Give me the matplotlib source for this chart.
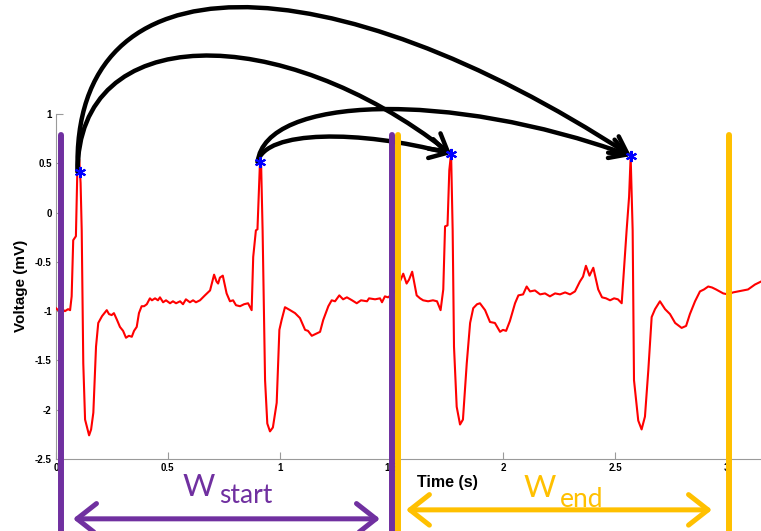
import numpy as np
import matplotlib
matplotlib.use("Agg")
import matplotlib.pyplot as plt
from matplotlib.path import Path
from matplotlib.patches import FancyArrowPatch

# ECG trace (time in s, voltage in mV)
t = [0.0, 0.009, 0.027, 0.040, 0.054, 0.063, 0.070, 0.077, 0.089, 0.095, 0.104, 0.110, 0.115,
     0.122, 0.130, 0.148, 0.157, 0.167, 0.179, 0.189, 0.206, 0.227, 0.237, 0.249, 0.259, 0.273,
     0.286, 0.300, 0.313, 0.326, 0.339, 0.349, 0.361, 0.371, 0.383, 0.394, 0.406, 0.420, 0.429,
     0.443, 0.456, 0.465, 0.479, 0.492, 0.510, 0.523, 0.537, 0.555, 0.568, 0.581, 0.599, 0.613,
     0.626, 0.644, 0.666, 0.689, 0.707, 0.718, 0.725, 0.733, 0.746, 0.763, 0.778, 0.792, 0.805,
     0.823, 0.841, 0.859, 0.868, 0.875, 0.882, 0.894, 0.901, 0.912, 0.917, 0.924, 0.935, 0.945,
     0.957, 0.970, 0.987, 0.999, 1.009, 1.024, 1.047, 1.069, 1.091, 1.114, 1.127, 1.144, 1.163,
     1.181, 1.195, 1.218, 1.233, 1.248, 1.267, 1.284, 1.301, 1.324, 1.345, 1.364, 1.391, 1.400,
     1.427, 1.449, 1.458, 1.471, 1.485, 1.508, 1.524, 1.538, 1.553, 1.568, 1.579, 1.593, 1.613,
     1.628, 1.642, 1.664, 1.686, 1.704, 1.720, 1.732, 1.740, 1.751, 1.759, 1.767, 1.774, 1.780,
     1.792, 1.807, 1.820, 1.837, 1.852, 1.866, 1.883, 1.896, 1.919, 1.941, 1.963, 1.986, 1.999,
     2.013, 2.030, 2.053, 2.068, 2.089, 2.105, 2.120, 2.142, 2.165, 2.187, 2.209, 2.232, 2.254,
     2.277, 2.299, 2.321, 2.343, 2.357, 2.370, 2.386, 2.403, 2.425, 2.442, 2.460, 2.478, 2.496,
     2.513, 2.530, 2.542, 2.552, 2.563, 2.570, 2.579, 2.585, 2.604, 2.619, 2.634, 2.649, 2.664,
     2.679, 2.701, 2.724, 2.746, 2.769, 2.798, 2.818, 2.835, 2.858, 2.880, 2.898, 2.917, 2.934,
     2.952, 2.984, 3.005, 3.028, 3.050, 3.072, 3.095, 3.126, 3.153]
v = [-0.97, -0.99, -0.98, -1.00, -0.98, -0.99, -0.85, -0.28, -0.24, 0.38, 0.54, 0.30, -0.18,
     -1.53, -2.10, -2.26, -2.20, -2.03, -1.36, -1.12, -1.05, -0.99, -1.03, -1.04, -1.02, -1.09,
     -1.16, -1.20, -1.27, -1.25, -1.26, -1.20, -1.16, -1.02, -0.95, -0.95, -0.93, -0.87, -0.89,
     -0.87, -0.89, -0.86, -0.91, -0.89, -0.92, -0.90, -0.92, -0.90, -0.93, -0.88, -0.91, -0.89,
     -0.91, -0.89, -0.84, -0.79, -0.63, -0.70, -0.72, -0.66, -0.64, -0.82, -0.90, -0.89, -0.94,
     -0.95, -0.93, -0.92, -0.96, -0.99, -0.45, -0.18, -0.17, 0.50, 0.53, -0.18, -1.70, -2.14,
     -2.22, -2.18, -1.93, -1.19, -1.09, -0.96, -0.99, -1.02, -1.07, -1.19, -1.20, -1.25, -1.23,
     -1.21, -1.09, -0.95, -0.89, -0.90, -0.84, -0.88, -0.86, -0.89, -0.92, -0.89, -0.90, -0.87,
     -0.88, -0.87, -0.91, -0.85, -0.86, -0.82, -0.78, -0.70, -0.62, -0.72, -0.68, -0.60, -0.84,
     -0.87, -0.89, -0.90, -0.89, -0.90, -0.99, -0.78, -0.14, -0.13, 0.43, 0.60, -0.18, -1.36,
     -1.97, -2.15, -2.10, -1.53, -1.12, -0.97, -0.93, -0.92, -0.99, -1.11, -1.12, -1.21, -1.19,
     -1.20, -1.10, -0.92, -0.84, -0.83, -0.75, -0.80, -0.79, -0.83, -0.82, -0.85, -0.82, -0.83,
     -0.81, -0.83, -0.80, -0.70, -0.65, -0.54, -0.64, -0.56, -0.78, -0.86, -0.87, -0.89, -0.87,
     -0.88, -0.92, -0.51, -0.18, 0.16, 0.57, -0.18, -1.70, -2.11, -2.20, -2.07, -1.60, -1.06,
     -0.98, -0.90, -0.98, -1.03, -1.12, -1.17, -1.15, -1.03, -0.90, -0.80, -0.78, -0.75, -0.76,
     -0.78, -0.82, -0.83, -0.81, -0.80, -0.79, -0.78, -0.73, -0.70]

# detected R peaks (blue asterisks)
peak_t = [0.107, 0.912, 1.767, 2.572]
peak_v = [0.412, 0.513, 0.594, 0.574]

# window boundaries
w_start = [0.021, 1.503]
w_end = [1.530, 3.012]

# arrows between peaks: (from, to, control point 1, control point 2)
links = [(0, 3, (0.063, 2.66), (1.225, 2.56)),
         (0, 2, (0.094, 1.95), (1.002, 1.95)),
         (1, 3, (0.935, 1.19), (1.762, 1.24)),
         (1, 2, (0.935, 0.84), (1.360, 0.84))]

xticks = [0, 0.5, 1, 1.5, 2, 2.5, 3]
xticklabels = ['0', '0.5', '1', '1.5', '2', '2.5', '3']
yticks = [-2.5, -2, -1.5, -1, -0.5, 0, 0.5, 1]
yticklabels = ['-2.5', '-2', '-1.5', '-1', '-0.5', '0', '0.5', '1']

purple = '#7030A0'
orange = '#FFC000'

fig = plt.figure(figsize=(7.61, 5.31), dpi=100)
ax = fig.add_axes([56 / 761, 72 / 531, 705 / 761, 345 / 531])

ax.plot(t, v, color='red', lw=1.5, zorder=3)
ax.plot(peak_t, peak_v, ls='none', marker=(6, 2, 0), ms=8, mew=1.5,
        color='blue', zorder=5, clip_on=False)

ax.set_xlim(0, 3.153)
ax.set_ylim(-2.5, 1)
ax.set_xticks(xticks)
ax.set_xticklabels(xticklabels)
ax.set_yticks(yticks)
ax.set_yticklabels(yticklabels)
for s in ['top', 'right']:
    ax.spines[s].set_visible(False)
for s in ['left', 'bottom']:
    ax.spines[s].set_color('#9a9a9a')
ax.tick_params(direction='in', length=5, color='#9a9a9a', labelsize=7, pad=3)
for lab in ax.get_xticklabels() + ax.get_yticklabels():
    lab.set_fontweight('bold')
    lab.set_family('Liberation Sans')

fig.text(21 / 761, 1 - 286 / 531, 'Voltage (mV)', rotation=90, ha='center', va='center',
         fontsize=11, fontweight='bold', family='Liberation Sans')
fig.text(447 / 761, 1 - 483 / 531, 'Time (s)', ha='center', va='center',
         fontsize=11.5, fontweight='bold', family='Liberation Sans')

# window lines
for x in w_start:
    ax.plot([x, x], [0.787, -3.23], color=purple, lw=4.3, solid_capstyle='round',
            clip_on=False, zorder=6)
for x in w_end:
    ax.plot([x, x], [0.787, -3.23], color=orange, lw=4.3, solid_capstyle='round',
            clip_on=False, zorder=6)

# double arrows under the axis
for (a, b, y, c) in [(0.076, 1.449, -3.107, purple), (1.565, 2.934, -3.016, orange)]:
    arr = FancyArrowPatch((a, y), (b, y), arrowstyle='<->,head_length=0.7,head_width=0.55',
                          mutation_scale=20, lw=3.6, color=c, shrinkA=0, shrinkB=0,
                          capstyle='round', joinstyle='round', clip_on=False, zorder=6)
    ax.add_patch(arr)

# curved arrows between peaks
for (i, j, c1, c2) in links:
    verts = [(peak_t[i] - 0.01, peak_v[i]), c1, c2, (peak_t[j], peak_v[j])]
    path = Path(verts, [Path.MOVETO, Path.CURVE4, Path.CURVE4, Path.CURVE4])
    arr = FancyArrowPatch(path=path, arrowstyle='->,head_length=0.6,head_width=0.35',
                          mutation_scale=20, lw=3.2, color='black',
                          capstyle='round', joinstyle='round', clip_on=False, zorder=4)
    ax.add_patch(arr)

# window labels
fig.text(183 / 761, 1 - 496 / 531, 'W', fontsize=22.5, color=purple, family='Lato',
         ha='left', va='baseline')
fig.text(219 / 761, 1 - 503 / 531, 'start', fontsize=19, color=purple, family='Lato',
         ha='left', va='baseline')
fig.text(524 / 761, 1 - 497 / 531, 'W', fontsize=22.5, color=orange, family='Lato',
         ha='left', va='baseline')
fig.text(560 / 761, 1 - 507 / 531, 'end', fontsize=19, color=orange, family='Lato',
         ha='left', va='baseline')

fig.savefig('out.png', dpi=100)
